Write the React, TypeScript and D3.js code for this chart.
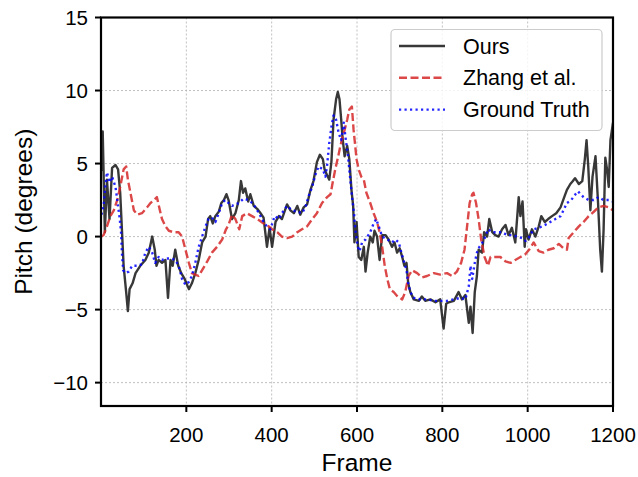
import React from "react";
import * as d3 from "d3";

const oursFrames = [1,4,9,14,20,26,34,40,45,49,53,59,63,67,74,81,92,104,112,120,126,130,135,143,151,157,163,168,174,181,188,196,206,213,221,229,237,245,251,256,262,268,276,282,288,294,299,307,315,323,328,333,338,345,350,358,366,374,381,389,395,401,409,417,424,436,444,452,460,467,475,483,491,498,506,513,520,524,530,535,540,545,551,555,559,563,566,571,577,582,587,591,594,599,604,610,616,620,625,631,637,641,647,653,659,667,674,682,688,694,700,706,711,716,720,725,733,745,752,760,772,784,795,803,809,815,827,838,846,854,862,866,871,876,881,885,893,898,905,910,917,924,932,940,948,955,963,971,979,983,988,993,996,1002,1010,1018,1026,1032,1040,1048,1057,1067,1077,1087,1092,1100,1106,1111,1120,1128,1134,1138,1142,1147,1152,1159,1165,1170,1174,1178,1182,1186,1190,1194,1200];
const oursPitch = [4.5,7.2,0.3,3.9,1.2,4.7,4.9,4.6,3.0,0.5,-2.0,-3.8,-5.1,-3.6,-3.2,-2.5,-2.0,-1.6,-1.1,0,-0.9,-2.0,-1.6,-1.8,-1.6,-4.2,-1.6,-2.0,-0.9,-2.0,-2.5,-2.9,-3.6,-3.2,-2.5,-1.6,-0.4,0,1.2,1.4,0.9,1.4,1.7,2.3,2.5,2.9,2.5,1.2,1.6,2.5,3.8,3.0,3.3,2.4,2.9,2.1,1.9,1.6,1.3,-0.7,0.6,-0.7,1.0,1.4,1.2,2.2,1.8,1.6,2.1,1.5,2.0,2.2,3.2,3.8,5.1,5.6,5.3,4.6,4.2,3.9,5.1,8.0,9.4,9.9,9.4,8.0,6.8,5.5,6.2,5.3,3.2,2.1,-0.4,1.0,-1.4,-1.6,-0.7,-2.4,-1.1,0,-0.4,0.4,0,-1.6,0.1,0.1,-0.2,-0.7,-0.4,-1.1,-0.8,-1.4,-2.0,-1.8,-3.2,-3.8,-4.3,-4.4,-4.1,-4.4,-4.3,-4.5,-4.3,-6.3,-4.6,-4.5,-4.4,-3.8,-4.3,-4.0,-5.9,-4.8,-6.6,-3.8,-2.7,-0.9,-1.1,0.3,0,1.2,0.3,0.1,0,0.5,0.8,0.1,0.6,-0.4,2.7,1.4,2.4,-0.7,0.5,-0.2,0.5,0,0.7,1.4,1.0,1.2,1.4,1.6,2.0,2.8,3.2,3.6,3.8,4.0,3.6,3.8,5.3,6.6,4.8,1.8,4.1,5.5,2.3,-0.9,-2.4,0.5,5.4,4.6,3.4,6.6,7.8];

const zhangFrames = [1,6,14,22,30,38,45,53,59,63,69,77,85,96,108,116,124,131,138,143,151,159,170,182,190,198,206,213,221,229,237,249,260,272,284,293,299,307,315,324,331,342,354,366,381,393,401,413,424,436,448,460,471,483,495,506,518,530,538,543,549,556,561,566,571,577,582,588,592,599,604,610,616,622,631,639,647,653,659,665,671,677,686,695,706,713,721,729,741,752,764,780,795,811,823,834,844,852,858,864,870,873,879,885,891,899,907,913,924,936,948,960,971,983,995,1006,1014,1026,1037,1049,1061,1073,1084,1092,1096,1108,1120,1131,1143,1155,1166,1178,1190,1200];
const zhangPitch = [0.0,0.1,0.7,1.4,1.8,2.5,3.4,4.6,4.8,3.9,3.0,1.8,1.5,1.6,2.0,2.3,2.5,2.7,1.8,1.2,0.7,0.4,0.3,0.3,0,-0.9,-1.8,-2.5,-2.6,-2.7,-2.3,-1.7,-1.1,-0.7,-0.2,0.5,0.8,1.5,1.2,0.5,1.4,1.6,1.4,1.2,0.9,0.7,0.5,0.3,0,-0.1,0,0.3,0.5,0.7,1.2,1.6,2.3,2.7,2.9,3.7,4.6,5.5,6.2,6.8,7.3,8.0,8.7,8.9,7.3,5.3,4.6,4.1,3.9,3.0,2.3,1.6,1.0,0.3,-0.7,-2.0,-2.9,-3.6,-3.8,-4.1,-4.3,-3.8,-2.7,-2.3,-2.5,-2.8,-2.7,-2.5,-2.6,-2.5,-2.7,-2.4,-1.8,-0.9,0.7,2.3,2.9,3.0,2.3,1.2,-0.2,-1.4,-2.0,-1.4,-1.4,-1.4,-1.7,-1.8,-1.6,-1.4,-1.2,-0.8,-0.4,-1.0,-1.1,-0.9,-0.8,-0.5,-0.8,-0.9,-0.1,0.3,0.7,1.0,1.4,1.7,2.0,2.1,2.0,1.8];

const gtFrames = [1,6,10,14,20,26,34,39,44,47,49,52,57,65,73,85,96,104,112,120,127,135,143,151,163,174,182,190,198,206,213,221,229,237,245,252,260,268,276,284,291,299,307,323,334,346,358,370,381,389,397,407,417,424,436,448,460,471,479,487,495,502,510,520,526,530,535,540,545,551,557,563,569,573,579,585,590,593,596,602,606,612,620,631,639,645,651,659,671,682,690,698,704,709,716,720,725,733,748,764,780,795,811,827,842,854,862,866,870,876,881,887,894,901,907,917,928,940,952,963,975,987,995,1002,1014,1026,1041,1053,1065,1077,1084,1092,1102,1112,1118,1124,1131,1143,1155,1166,1178,1190,1200];
const gtPitch = [1.5,2.1,3.4,4.4,3.7,4.1,3.4,2.3,1.2,0.3,-1.1,-2.3,-2.5,-2.4,-2.0,-2.0,-1.9,-1.1,-0.7,-1.1,-1.8,-1.4,-1.6,-1.5,-1.5,-1.6,-2.0,-2.9,-3.3,-3.1,-2.7,-1.8,-0.7,0,0.7,1.2,1.3,1.0,1.6,2.3,2.5,2.3,2.1,2.3,2.6,2.5,2.2,1.6,1.0,0.7,0.5,1.4,1.2,1.6,2.1,1.8,1.7,1.6,2.0,2.8,3.4,4.2,4.8,4.6,4.1,4.9,6.4,7.5,8.3,8.0,7.1,6.6,7.8,6.8,5.5,3.7,2.3,1.6,0.5,-0.7,-1.0,-0.4,-0.2,0.3,0.9,1.2,0.7,0,-0.2,-0.4,-0.2,-0.4,-1.1,-1.6,-2.3,-3.2,-3.8,-4.2,-4.3,-4.3,-4.4,-4.4,-4.4,-4.3,-4.2,-4.3,-3.4,-2.0,-2.9,-1.8,-1.1,-0.7,-0.4,0,0.5,0.3,0.3,0.3,0.1,0.1,0,-0.1,-0.3,-0.1,0.5,0.6,0.8,1.0,1.2,1.4,1.8,2.3,2.5,2.9,3.1,2.9,2.7,2.5,2.5,2.7,2.5,2.5,2.4];

const xTicks = [200, 400, 600, 800, 1000, 1200];
const yTicks = [-10, -5, 0, 5, 10, 15];
const seriesNames = ["Ours", "Zhang et al.", "Ground Truth"];

const W = 638, H = 477;
const L = 101, R = 613, T = 17.5, B = 406;
const FONT = "'Liberation Sans', Arial, Helvetica, sans-serif";

export default function App() {
  const x = d3.scaleLinear().domain([0, 1200]).range([L, R]);
  const y = d3.scaleLinear().domain([-11.6, 15]).range([B, T]);
  const mk = (fr: number[], v: number[]) =>
    d3.line<number>().x((_, i) => x(fr[i])).y((d) => y(d))(v) || "";

  const styles = [
    { color: "#000000", op: 0.78, dash: undefined as string | undefined },
    { color: "#d62728", op: 0.85, dash: "8,3.5" },
    { color: "#0000ff", op: 0.85, dash: "2.2,3.3" },
  ];
  const paths = [
    mk(oursFrames, oursPitch),
    mk(zhangFrames, zhangPitch),
    mk(gtFrames, gtPitch),
  ];

  const lx = 391, ly = 29.5, lw = 211, lh = 101;
  return (
    <svg width={W} height={H} style={{ position: "absolute", left: 0, top: 0 }} fontFamily={FONT}>
      <rect x={0} y={0} width={W} height={H} fill="#fff" />
      <defs>
        <clipPath id="plotclip">
          <rect x={L} y={T} width={R - L} height={B - T} />
        </clipPath>
      </defs>
      {xTicks.map((t) => (
        <line key={"gx" + t} x1={x(t)} x2={x(t)} y1={T} y2={B} stroke="#b0b0b0" strokeWidth={0.8} strokeDasharray="2,2" />
      ))}
      {yTicks.map((t) => (
        <line key={"gy" + t} x1={L} x2={R} y1={y(t)} y2={y(t)} stroke="#b0b0b0" strokeWidth={0.8} strokeDasharray="2,2" />
      ))}
      <g clipPath="url(#plotclip)">
        {paths.map((p, i) => (
          <path key={i} d={p} fill="none" stroke={styles[i].color} strokeOpacity={styles[i].op}
            strokeWidth={2.4} strokeDasharray={styles[i].dash} strokeLinejoin="round" />
        ))}
      </g>
      <rect x={L} y={T} width={R - L} height={B - T} fill="none" stroke="#000" strokeWidth={2.2} />
      {xTicks.map((t) => (
        <g key={"xt" + t}>
          <line x1={x(t)} x2={x(t)} y1={B} y2={B + 6} stroke="#000" strokeWidth={2} />
          <text x={x(t)} y={441.5} textAnchor="middle" fontSize={20.5} fill="#000">{t}</text>
        </g>
      ))}
      {yTicks.map((t) => (
        <g key={"yt" + t}>
          <line x1={L - 6} x2={L} y1={y(t)} y2={y(t)} stroke="#000" strokeWidth={2} />
          <text x={88} y={y(t) + 7.3} textAnchor="end" fontSize={20.5} fill="#000">{t < 0 ? "\u2212" + Math.abs(t) : t}</text>
        </g>
      ))}
      <text x={(L + R) / 2} y={471} textAnchor="middle" fontSize={24.5} fill="#000">Frame</text>
      <text transform={`translate(32,${(T + B) / 2}) rotate(-90)`} textAnchor="middle" fontSize={24.5} fill="#000">Pitch (degrees)</text>
      <rect x={lx} y={ly} width={lw} height={lh} rx={4} fill="#fff" fillOpacity={0.8} stroke="#cccccc" strokeWidth={1.2} />
      {seriesNames.map((n, i) => (
        <g key={n}>
          <line x1={399} x2={445} y1={46 + i * 31.8} y2={46 + i * 31.8} stroke={styles[i].color} strokeOpacity={styles[i].op}
            strokeWidth={2.4} strokeDasharray={styles[i].dash} />
          <text x={463} y={46 + i * 31.8 + 7.5} fontSize={21.5} fill="#000">{n}</text>
        </g>
      ))}
    </svg>
  );
}
